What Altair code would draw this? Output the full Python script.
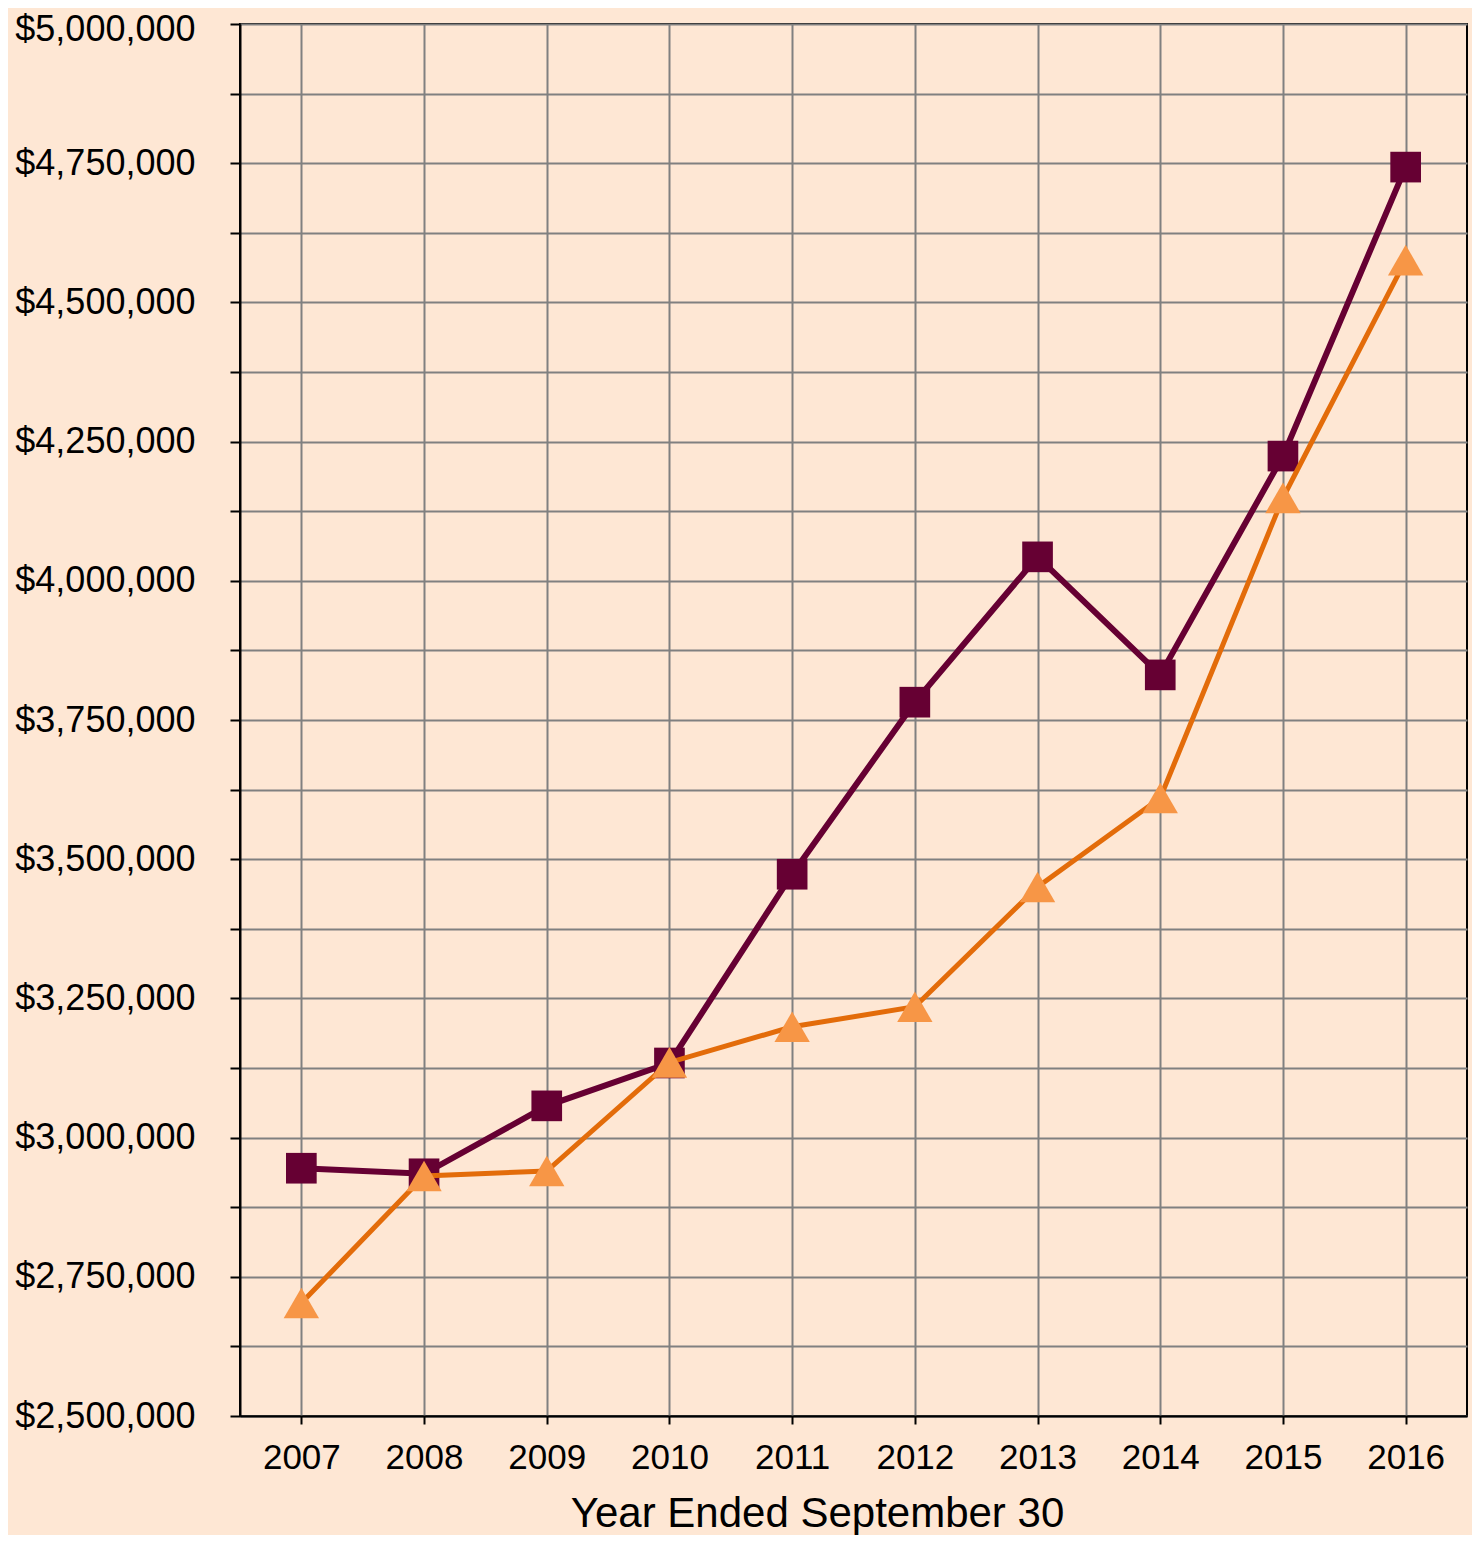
import altair as alt
import pandas as pd

years = ["2007", "2008", "2009", "2010", "2011", "2012", "2013", "2014", "2015", "2016"]
series_a = [2945000, 2935000, 3057000, 3134000, 3473000, 3782000, 4043000, 3831000, 4224000, 4743000]
series_b = [2703000, 2931000, 2940000, 3135000, 3199000, 3235000, 3450000, 3610000, 4149000, 4576000]
y_ticks = [2500000 + 125000 * i for i in range(21)]

df_a = pd.DataFrame({"year": years, "value": series_a})
df_b = pd.DataFrame({"year": years, "value": series_b})

BG = "#FEE7D4"
FONT = "Liberation Sans"

x_enc = alt.X(
    "year:O",
    scale=alt.Scale(type="point", padding=0.5),
    axis=alt.Axis(
        title="Year Ended September 30",
        labelAngle=0,
        labelFontSize=35,
        labelFont=FONT,
        labelColor="black",
        labelPadding=16,
        tickSize=8,
        tickColor="black",
        tickWidth=2,
        domainColor="black",
        domainWidth=2,
        grid=True,
        gridColor="#808080",
        gridWidth=2,
        titleFontSize=42,
        titleFont=FONT,
        titleFontWeight="normal",
        titleColor="black",
        titleX=577,
        titleY=110,
        titleAlign="center",
        titleBaseline="alphabetic",
    ),
)

y_enc = alt.Y(
    "value:Q",
    scale=alt.Scale(domain=[2500000, 5000000], nice=False, zero=False),
    axis=alt.Axis(
        title=None,
        values=y_ticks,
        labelExpr="datum.value % 250000 == 0 ? format(datum.value, '$,.0f') : ''",
        labelFontSize=36,
        labelFont=FONT,
        labelColor="black",
        labelPadding=35,
        labelLimit=400,
        labelOffset={"condition": {"test": "datum.value >= 5000000", "value": 5}, "value": 0},
        tickSize=10,
        tickColor="black",
        tickWidth=2,
        domainColor="black",
        domainWidth=2,
        grid=True,
        gridColor="#808080",
        gridWidth=2,
    ),
)

line_a = alt.Chart(df_a).mark_line(color="#660033", strokeWidth=6).encode(x=x_enc, y=y_enc)
pts_a = alt.Chart(df_a).mark_point(
    shape="square", filled=True, size=940, color="#660033", opacity=1
).encode(x="year:O", y="value:Q")
line_b = alt.Chart(df_b).mark_line(color="#E36C0A", strokeWidth=5).encode(x="year:O", y="value:Q")
pts_b = alt.Chart(df_b).mark_point(
    shape="triangle-up", filled=True, size=1250, color="#F79646", opacity=1
).encode(x="year:O", y="value:Q")

chart = (
    alt.layer(line_a, pts_a, line_b, pts_b)
    .properties(
        width=1227,
        height=1392,
        autosize=alt.AutoSizeParams(type="none"),
        padding={"left": 232, "top": 16, "right": 5, "bottom": 119},
        background=BG,
    )
    .configure_view(fill=BG, stroke="black", strokeWidth=2)
)

chart.save("out.html", embed_options={"renderer": "svg", "actions": False})
